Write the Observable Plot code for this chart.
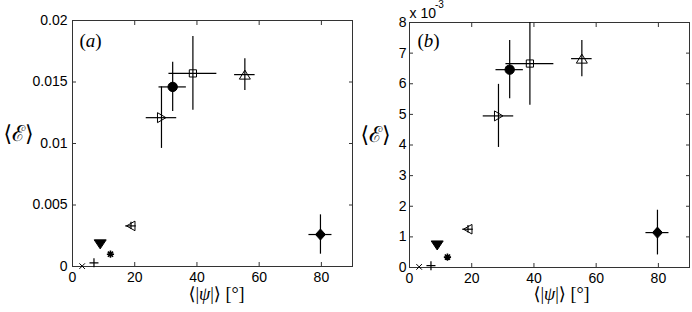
<!DOCTYPE html>
<html><head><meta charset="utf-8">
<script src="https://cdn.jsdelivr.net/npm/d3@7"></script>
<script src="https://cdn.jsdelivr.net/npm/@observablehq/plot@0.6"></script>
<style>
body{margin:0;background:#fff}
#fig{position:relative;width:692px;height:312px;overflow:hidden;background:#fff}
#fig > div{position:absolute;top:0}
</style></head><body><div id="fig"><div id="pa" style="left:0"></div><div id="pb" style="left:354px"></div></div>
<script>
// ---- data ----
const markers = ["times","plus","triDown","asterisk","triLeft","triRight","circle","square","triUp","diamond"];
const psi     = [3.1, 6.9, 8.9, 12.2, 18.8, 28.6, 32.2, 38.7, 55.4, 79.7];
const psiErr  = [null, null, null, null, 1.7, 4.9, 4.4, 7.7, 3.3, 3.7];
// panel (a): <E>
const epsA    = [0.00003, 0.0003, 0.0018, 0.001, 0.0033, 0.0121, 0.0146, 0.0157, 0.0156, 0.0026];
const epsAErr = [null, null, null, null, 0.0003, 0.0025, 0.002, 0.003, 0.0013, 0.0016];
// panel (b): <E> in units of 1e-3
const epsB    = [0.02, 0.06, 0.72, 0.34, 1.25, 4.95, 6.46, 6.66, 6.82, 1.14];
const epsBErr = [null, null, null, null, 0.12, 1.03, 0.95, 1.36, 0.59, 0.73];
// ticks
const xTicks = [0, 20, 40, 60, 80];
const xTickLabels = ["0", "20", "40", "60", "80"];
const yTicksA = [0, 0.005, 0.01, 0.015, 0.02];
const yTickLabelsA = ["0", "0.005", "0.01", "0.015", "0.02"];
const yTicksB = [0, 1, 2, 3, 4, 5, 6, 7, 8];
const yTickLabelsB = ["0", "1", "2", "3", "4", "5", "6", "7", "8"];

// ---- marker shapes ----
const sym = {
  times:{draw(c){const s=2.8;c.moveTo(-s,-s);c.lineTo(s,s);c.moveTo(-s,s);c.lineTo(s,-s);}},
  plus:{draw(c){const s=4.5;c.moveTo(-s,0);c.lineTo(s,0);c.moveTo(0,-s);c.lineTo(0,s);}},
  triDown:{draw(c){c.moveTo(-6,-4.5);c.lineTo(6,-4.5);c.lineTo(0,4.5);c.closePath();}},
  asterisk:{draw(c){const s=3.6,d=2.6;c.moveTo(-s,0);c.lineTo(s,0);c.moveTo(0,-s);c.lineTo(0,s);c.moveTo(-d,-d);c.lineTo(d,d);c.moveTo(-d,d);c.lineTo(d,-d);}},
  triLeft:{draw(c){c.moveTo(4,-4.8);c.lineTo(4,4.8);c.lineTo(-4.5,0);c.closePath();}},
  triRight:{draw(c){c.moveTo(-4,-5);c.lineTo(-4,5);c.lineTo(4.5,0);c.closePath();}},
  circle:{draw(c){c.moveTo(4.7,0);c.arc(0,0,4.7,0,2*Math.PI);}},
  square:{draw(c){const s=3.6;c.rect(-s,-s,2*s,2*s);}},
  triUp:{draw(c){c.moveTo(-5.5,4.5);c.lineTo(5.5,4.5);c.lineTo(0,-4.5);c.closePath();}},
  diamond:{draw(c){c.moveTo(0,-5.5);c.lineTo(5,0);c.lineTo(0,5.5);c.lineTo(-5,0);c.closePath();}}
};
const styleOf = {
  times:{fill:"none",strokeWidth:1}, plus:{fill:"none",strokeWidth:1.2},
  triDown:{fill:"black",strokeWidth:1}, asterisk:{fill:"none",strokeWidth:1.6},
  triLeft:{fill:"none",strokeWidth:1}, triRight:{fill:"none",strokeWidth:1},
  circle:{fill:"black",strokeWidth:1}, square:{fill:"none",strokeWidth:1},
  triUp:{fill:"none",strokeWidth:1}, diamond:{fill:"black",strokeWidth:1}
};

function panel(o) {
  const idx = d3.range(psi.length);
  const errIdx = idx.filter(i => o.err[i] != null);
  const lab = (ticks, labels) => d => labels[ticks.indexOf(d)];
  const marks = [
    Plot.frame({stroke:"#333", strokeWidth:1}),
    Plot.axisX({ticks:xTicks, anchor:"bottom", tickSize:-4, tickPadding:10, tickFormat:lab(xTicks, xTickLabels), label:null, stroke:"#333"}),
    Plot.axisX({ticks:xTicks, anchor:"top", tickSize:-4, tickFormat:() => "", label:null, stroke:"#333"}),
    Plot.axisY({ticks:o.yTicks, anchor:"left", tickSize:-4, tickPadding:o.yPad, tickFormat:lab(o.yTicks, o.yLabels), label:null, stroke:"#333"}),
    Plot.axisY({ticks:o.yTicks, anchor:"right", tickSize:-4, tickFormat:() => "", label:null, stroke:"#333"}),
    Plot.ruleX(errIdx, {x:i => psi[i], y1:i => o.y[i] - o.err[i], y2:i => o.y[i] + o.err[i], stroke:"black", strokeWidth:1.2, clip:true}),
    Plot.ruleY(errIdx, {y:i => o.y[i], x1:i => psi[i] - psiErr[i], x2:i => psi[i] + psiErr[i], stroke:"black", strokeWidth:1.2, clip:true}),
    ...idx.map(i => Plot.dot([i], {x:j => psi[j], y:j => o.y[j], r:5, symbol:sym[markers[i]], stroke:"black", ...styleOf[markers[i]]})),
    Plot.text([o.tag], {frameAnchor:"top-left", textAnchor:"start", lineAnchor:"middle", dx:o.tagDx, dy:o.tagDy, fontSize:19, fontFamily:"Liberation Serif, DejaVu Serif, serif", className:"tag"}),
    Plot.text(["⟨ℰ⟩"], {frameAnchor:"left", textAnchor:"middle", lineAnchor:"middle", dx:o.ylabDx, dy:-10, fontSize:22, fontFamily:"Liberation Serif, DejaVu Serif, serif"}),
    Plot.text(["⟨|ψ|⟩ [°]"], {frameAnchor:"bottom", textAnchor:"middle", lineAnchor:"middle", dx:o.xlabDx, dy:o.xlabDy, fontSize:18, fontFamily:"Liberation Serif, DejaVu Serif, serif", className:"xlab"})
  ];
  if (o.exp) {
    marks.push(Plot.text(["x 10"], {frameAnchor:"top-left", textAnchor:"start", lineAnchor:"bottom", dx:0, dy:-5, fontSize:14}));
    marks.push(Plot.text(["-3"], {frameAnchor:"top-left", textAnchor:"start", lineAnchor:"bottom", dx:25.5, dy:-14.5, fontSize:10}));
  }
  return Plot.plot({
    width:o.width, height:312,
    marginLeft:o.ml, marginRight:o.mr, marginTop:o.mt, marginBottom:312 - o.bottom,
    x:{domain:[0, 90]},
    y:{domain:o.yDomain},
    style:{fontFamily:"Liberation Sans, Arial, sans-serif", fontSize:"14px", color:"black", background:"white", overflow:"visible"},
    marks
  });
}

const a = panel({width:354, ml:72, mr:2, mt:20, bottom:266, y:epsA, err:epsAErr, yDomain:[0, 0.02],
  yTicks:yTicksA, yLabels:yTickLabelsA, yPad:9, tag:"(a)", tagDx:7, tagDy:20, ylabDx:-54, xlabDx:4, xlabDy:28});
const b = panel({width:338, ml:55, mr:3, mt:22, bottom:267, y:epsB, err:epsBErr, yDomain:[0, 8],
  yTicks:yTicksB, yLabels:yTickLabelsB, yPad:7, tag:"(b)", tagDx:8, tagDy:18, ylabDx:-34, xlabDx:12, xlabDy:27, exp:true});
document.getElementById("pa").appendChild(a);
document.getElementById("pb").appendChild(b);

// italic letters inside the math-style labels
d3.selectAll(".xlab text").html("⟨|<tspan font-style='italic'>ψ</tspan>|⟩ [°]");
d3.selectAll(".tag text").each(function(){
  const t = this.textContent; const m = t.match(/\((.)\)/);
  if (m) d3.select(this).html("(<tspan font-style='italic'>" + m[1] + "</tspan>)");
});
</script></body></html>
